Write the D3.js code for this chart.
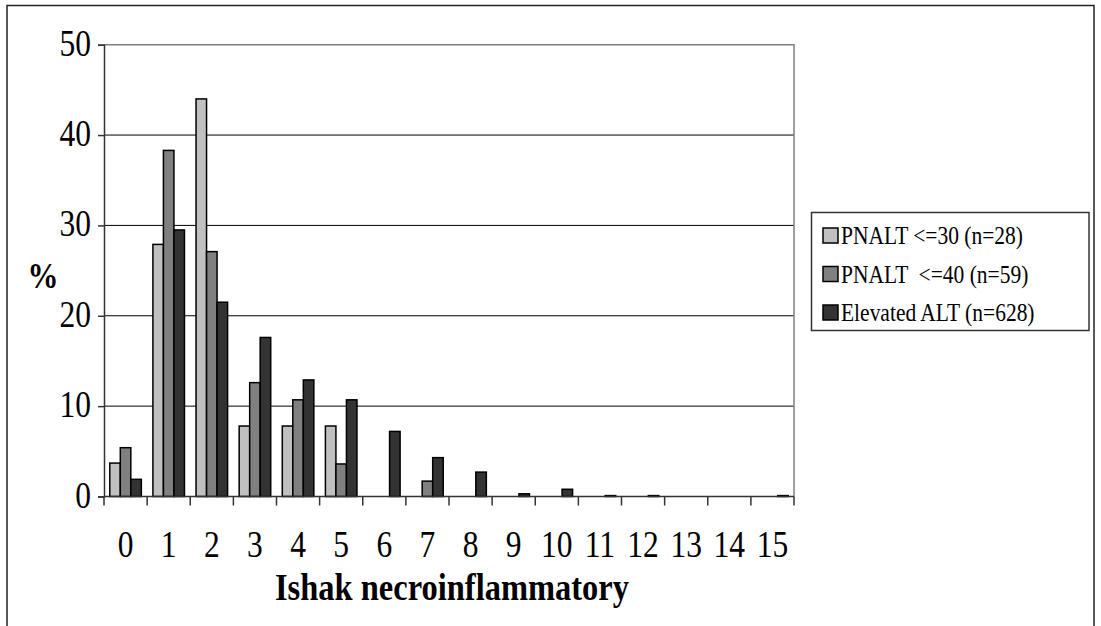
<!DOCTYPE html>
<html>
<head>
<meta charset="utf-8">
<script src="https://cdn.jsdelivr.net/npm/d3@7"></script>
<style>
  html, body { margin: 0; padding: 0; background: #fff; }
  svg { display: block; }
  text { font-family: "Liberation Serif", "Times New Roman", serif; fill: #000; }
</style>
</head>
<body>
<svg id="chart" width="1101" height="626"></svg>
<script>
// Ishak necroinflammatory score categories
const categories = ["0","1","2","3","4","5","6","7","8","9","10","11","12","13","14","15"];

// Percentage of patients at each score, per group
const pnalt30 = [3.7, 27.9, 44.0, 7.8, 7.8, 7.8, 0, 0, 0, 0, 0, 0, 0, 0, 0, 0];
const pnalt40 = [5.4, 38.3, 27.1, 12.6, 10.7, 3.6, 0, 1.7, 0, 0, 0, 0, 0, 0, 0, 0];
const elevated = [1.9, 29.5, 21.5, 17.6, 12.9, 10.7, 7.2, 4.3, 2.7, 0.3, 0.8, 0.1, 0.1, 0, 0, 0.1];

const seriesNames = ["PNALT <=30 (n=28)", "PNALT  <=40 (n=59)", "Elevated ALT (n=628)"];
const seriesColors = ["#c0c0c0", "#808080", "#333333"];
const yTicks = [0, 10, 20, 30, 40, 50];

const series = [pnalt30, pnalt40, elevated].map((vals, i) => ({
  name: seriesNames[i], color: seriesColors[i], values: vals
}));

// Text is drawn slightly taller than wide (tall serif look)
const STRETCH = 1.18;
function tallText(sel, x, y) {
  return sel.attr("transform", (d, i) => {
    const tx = typeof x === "function" ? x(d, i) : x;
    const ty = typeof y === "function" ? y(d, i) : y;
    return `translate(${tx},${ty}) scale(1,${STRETCH})`;
  });
}

const svg = d3.select("#chart");

// Outer chart frame
svg.append("rect")
  .attr("x", 7).attr("y", 5.5).attr("width", 1087).attr("height", 640)
  .attr("fill", "#fff").attr("stroke", "#222").attr("stroke-width", 1.5);

const plot = { left: 104, right: 794, top: 44.7, bottom: 496.5 };

const x = d3.scaleBand().domain(categories).range([plot.left, plot.right]).padding(0);
const xs = d3.scaleBand().domain(d3.range(series.length))
  .range([0, x.bandwidth()]).paddingInner(0).paddingOuter(0.55);
const y = d3.scaleLinear().domain([0, 50]).range([plot.bottom, plot.top]);

// Horizontal gridlines
svg.append("g").selectAll("line").data(yTicks.filter(t => t > 0 && t < 50)).join("line")
  .attr("x1", plot.left).attr("x2", plot.right)
  .attr("y1", d => y(d)).attr("y2", d => y(d))
  .attr("stroke", "#000").attr("stroke-width", 1);

// Plot area border (top and right)
svg.append("path")
  .attr("d", `M${plot.left},${y(50)}H${plot.right}V${plot.bottom}`)
  .attr("fill", "none").attr("stroke", "#808080").attr("stroke-width", 1.5);

// Bars
const groups = svg.append("g").selectAll("g").data(series).join("g")
  .attr("fill", d => d.color);
groups.each(function(s, si) {
  d3.select(this).selectAll("rect").data(s.values.map((v, i) => ({ v, c: categories[i] })))
    .join("rect")
    .filter(d => d.v > 0)
    .attr("x", d => x(d.c) + xs(si))
    .attr("width", xs.bandwidth())
    .attr("y", d => y(d.v))
    .attr("height", d => y(0) - y(d.v))
    .attr("stroke", "#000").attr("stroke-width", 1.5);
});

// Y axis line and ticks from the D3 axis; labels drawn below with the tall style
const yAxis = svg.append("g").attr("transform", `translate(${plot.left},0)`)
  .call(d3.axisLeft(y).tickValues(yTicks).tickSize(6).tickFormat(""));
yAxis.select(".domain").attr("stroke", "#333").attr("stroke-width", 1.5);
yAxis.selectAll(".tick line").attr("stroke", "#333").attr("stroke-width", 1.5);
yAxis.selectAll(".tick text").remove();
svg.append("g").selectAll("text").data(yTicks).join("text")
  .call(tallText, 91, d => y(d) + 11)
  .attr("text-anchor", "end")
  .attr("font-size", 31.5)
  .text(d => d3.format("d")(d));

// X axis: ticks at category boundaries
const xAxisG = svg.append("g");
xAxisG.append("line")
  .attr("x1", plot.left).attr("x2", plot.right)
  .attr("y1", plot.bottom).attr("y2", plot.bottom)
  .attr("stroke", "#333").attr("stroke-width", 1.5);
const bounds = categories.map(c => x(c)).concat([plot.right]);
xAxisG.selectAll("line.tick").data(bounds).join("line").attr("class", "tick")
  .attr("x1", d => d).attr("x2", d => d)
  .attr("y1", plot.bottom).attr("y2", plot.bottom + 9)
  .attr("stroke", "#333").attr("stroke-width", 1.5);
xAxisG.selectAll("text").data(categories).join("text")
  .call(tallText, d => x(d) + x.bandwidth() / 2, 557)
  .attr("text-anchor", "middle")
  .attr("font-size", 31.5)
  .text(d => d);

// Axis titles
svg.append("text")
  .call(tallText, (plot.left + plot.right) / 2 + 3, 600)
  .attr("text-anchor", "middle").attr("font-size", 32.5).attr("font-weight", "bold")
  .text("Ishak necroinflammatory");
svg.append("text")
  .call(tallText, 43, 288)
  .attr("text-anchor", "middle").attr("font-size", 31).attr("font-weight", "bold")
  .text("%");

// Legend
const legend = svg.append("g");
legend.append("rect")
  .attr("x", 811.5).attr("y", 212.5).attr("width", 277.5).attr("height", 118)
  .attr("fill", "#fff").attr("stroke", "#333").attr("stroke-width", 1.5);
const items = legend.selectAll("g.item").data(series).join("g").attr("class", "item")
  .attr("transform", (d, i) => `translate(0, ${236 + i * 38.5})`);
items.append("rect")
  .attr("x", 823).attr("y", -8).attr("width", 15).attr("height", 15)
  .attr("fill", d => d.color).attr("stroke", "#000").attr("stroke-width", 1.5);
items.append("text")
  .call(tallText, 841, 8)
  .attr("font-size", 21.5)
  .style("white-space", "pre")
  .text(d => d.name);
</script>
</body>
</html>
